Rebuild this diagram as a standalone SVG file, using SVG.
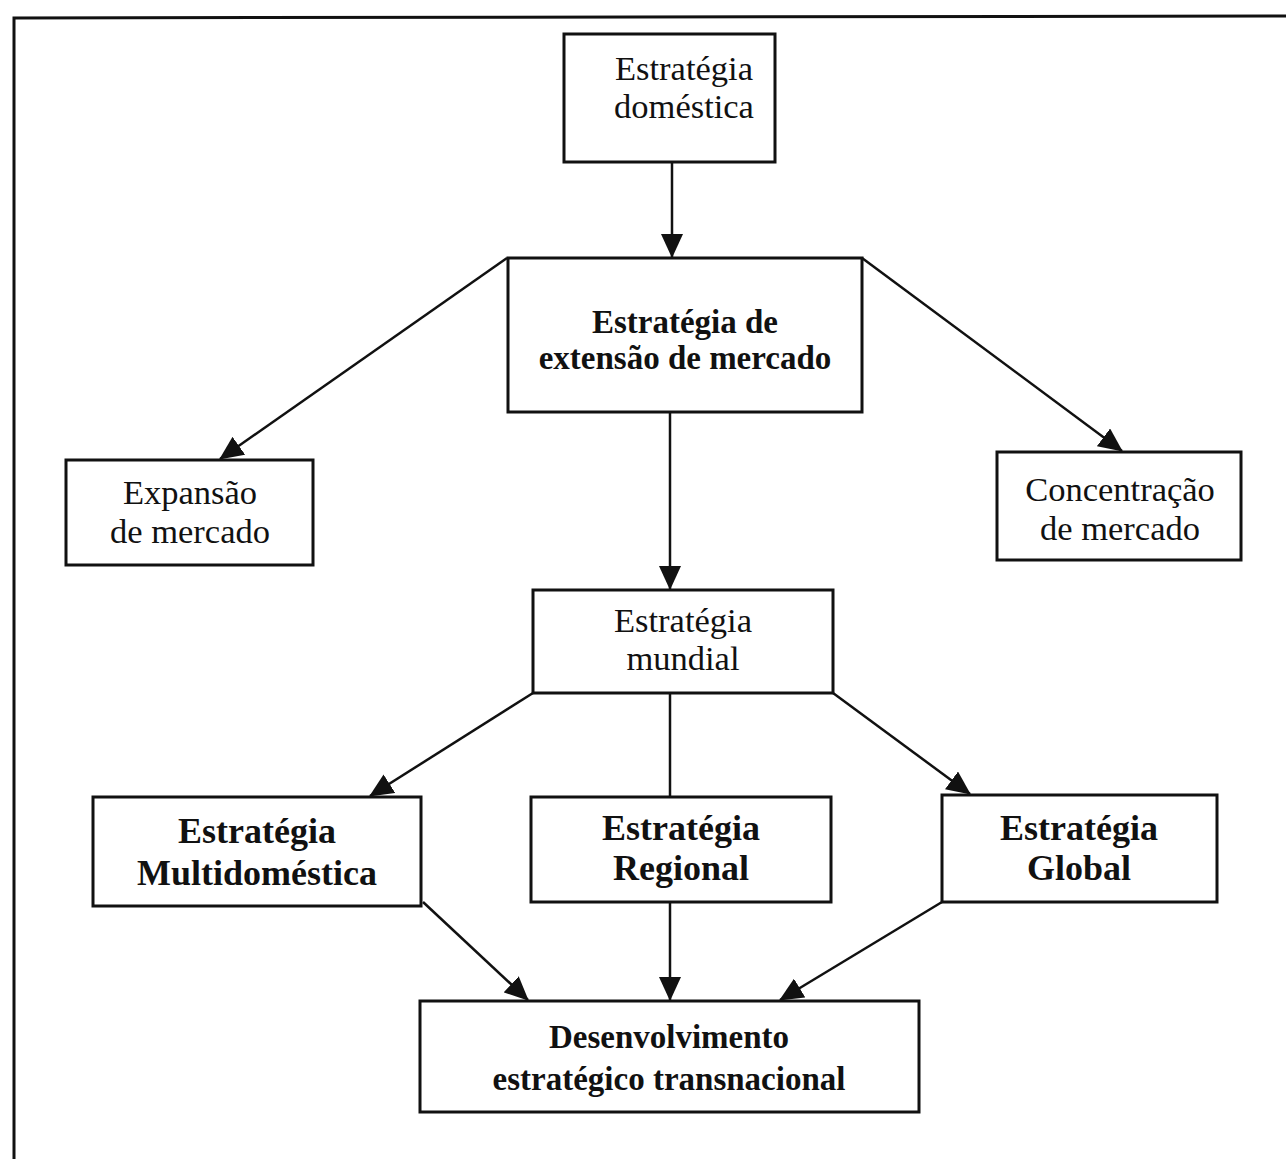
<svg xmlns="http://www.w3.org/2000/svg" width="1286" height="1159" viewBox="0 0 1286 1159">
  <style>
    .box { fill: #ffffff; stroke: #111111; stroke-width: 3; }
    .reg { font-family: "Liberation Serif", "Times New Roman", serif; font-size: 34.5px; fill: #111111; text-anchor: middle; }
    .bold { font-family: "Liberation Serif", "Times New Roman", serif; font-size: 36px; font-weight: bold; fill: #111111; text-anchor: middle; }
    .bold-s { font-size: 33px; }
    .link { fill: none; stroke: #111111; stroke-width: 2.5; }
    .frame { fill: none; stroke: #111111; stroke-width: 3; }
  </style>
  <defs>
    <marker id="arrow" markerUnits="userSpaceOnUse" markerWidth="24" markerHeight="22" refX="23" refY="11" orient="auto">
      <path d="M0,0 L24,11 L0,22 z" fill="#111111"/>
    </marker>
  </defs>

  <rect width="1286" height="1159" fill="#ffffff"/>

  <!-- outer frame (top and left edges) -->
  <path class="frame" d="M14,1159 L14,18 L1286,16"/>

  <!-- connectors -->
  <g id="connectors">
    <line class="link" x1="672" y1="162" x2="672" y2="257" marker-end="url(#arrow)"/>
    <line class="link" x1="507" y1="258" x2="220" y2="459" marker-end="url(#arrow)"/>
    <line class="link" x1="862" y1="258" x2="1122" y2="451" marker-end="url(#arrow)"/>
    <line class="link" x1="670" y1="412" x2="670" y2="589" marker-end="url(#arrow)"/>
    <line class="link" x1="533" y1="693" x2="370" y2="796" marker-end="url(#arrow)"/>
    <line class="link" x1="670" y1="693" x2="670" y2="797"/>
    <line class="link" x1="833" y1="693" x2="970" y2="794" marker-end="url(#arrow)"/>
    <line class="link" x1="423" y1="902" x2="528" y2="1000" marker-end="url(#arrow)"/>
    <line class="link" x1="670" y1="902" x2="670" y2="1000" marker-end="url(#arrow)"/>
    <line class="link" x1="942" y1="902" x2="780" y2="1000" marker-end="url(#arrow)"/>
  </g>

  <g id="node-domestica">
    <rect class="box" x="564" y="34" width="211" height="128"/>
    <text class="reg" x="684" y="80">Estratégia</text>
    <text class="reg" x="684" y="118">doméstica</text>
  </g>

  <g id="node-extensao">
    <rect class="box" x="508" y="258" width="354" height="154"/>
    <text class="bold bold-s" x="685" y="333">Estratégia de</text>
    <text class="bold bold-s" x="685" y="369">extensão de mercado</text>
  </g>

  <g id="node-expansao">
    <rect class="box" x="66" y="460" width="247" height="105"/>
    <text class="reg" x="190" y="504">Expansão</text>
    <text class="reg" x="190" y="543">de mercado</text>
  </g>

  <g id="node-concentracao">
    <rect class="box" x="997" y="452" width="244" height="108"/>
    <text class="reg" x="1120" y="501">Concentração</text>
    <text class="reg" x="1120" y="540">de mercado</text>
  </g>

  <g id="node-mundial">
    <rect class="box" x="533" y="590" width="300" height="103"/>
    <text class="reg" x="683" y="632">Estratégia</text>
    <text class="reg" x="683" y="670">mundial</text>
  </g>

  <g id="node-multidomestica">
    <rect class="box" x="93" y="797" width="328" height="109"/>
    <text class="bold" x="257" y="843">Estratégia</text>
    <text class="bold" x="257" y="885">Multidoméstica</text>
  </g>

  <g id="node-regional">
    <rect class="box" x="531" y="797" width="300" height="105"/>
    <text class="bold" x="681" y="840">Estratégia</text>
    <text class="bold" x="681" y="880">Regional</text>
  </g>

  <g id="node-global">
    <rect class="box" x="942" y="795" width="275" height="107"/>
    <text class="bold" x="1079" y="840">Estratégia</text>
    <text class="bold" x="1079" y="880">Global</text>
  </g>

  <g id="node-transnacional">
    <rect class="box" x="420" y="1001" width="499" height="111"/>
    <text class="bold bold-s" x="669" y="1048">Desenvolvimento</text>
    <text class="bold bold-s" x="669" y="1090">estratégico transnacional</text>
  </g>
</svg>
